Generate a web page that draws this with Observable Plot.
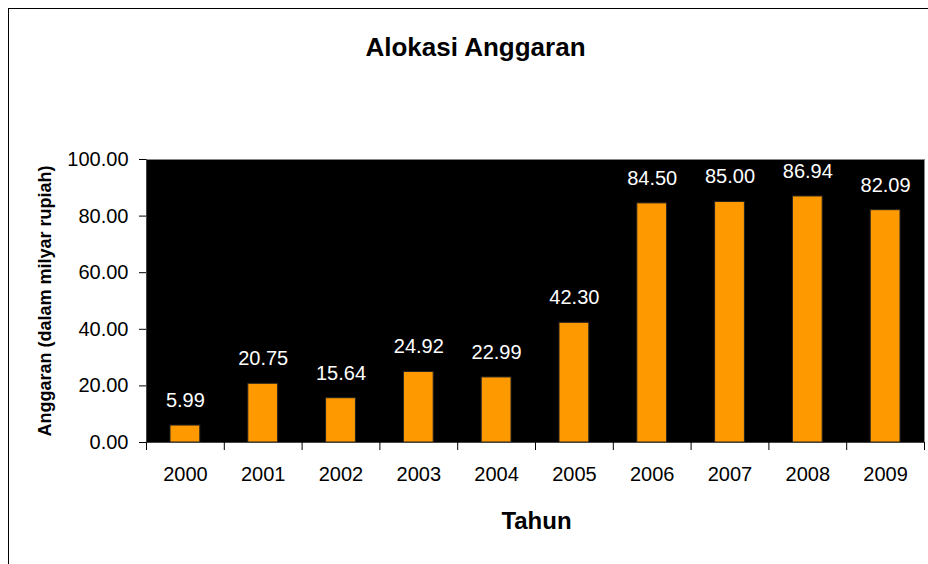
<!DOCTYPE html>
<html>
<head>
<meta charset="utf-8">
<script src="https://cdn.jsdelivr.net/npm/d3@7"></script>
<script src="https://cdn.jsdelivr.net/npm/@observablehq/plot@0.6"></script>
<style>
  html, body { margin: 0; padding: 0; background: #fff; overflow: hidden; width: 928px; height: 564px; }
  #border { position: absolute; left: 8px; top: 8px; width: 2000px; height: 2000px; border-left: 1px solid #000; border-top: 1px solid #000; }
  #chart { position: absolute; left: 0; top: 0; }
</style>
</head>
<body>
<div id="border"></div>
<div id="chart"></div>
<script>
const years = [2000, 2001, 2002, 2003, 2004, 2005, 2006, 2007, 2008, 2009];
const values = [5.99, 20.75, 15.64, 24.92, 22.99, 42.30, 84.50, 85.00, 86.94, 82.09];
const yTicks = [0, 20, 40, 60, 80, 100];
const titleText = "Alokasi Anggaran";
const xLabelText = "Tahun";
const yLabelText = "Anggaran (dalam milyar rupiah)";

const data = years.map((year, i) => ({year, value: values[i]}));
const boundaries = [...years.map(y => y - 0.5), years[years.length - 1] + 0.5];

const chart = Plot.plot({
  width: 928,
  height: 564,
  marginLeft: 146,
  marginRight: 4,
  marginTop: 159,
  marginBottom: 122,
  style: {fontFamily: "'Liberation Sans', Arial, sans-serif", fontSize: "20px", background: "transparent", overflow: "visible"},
  x: {type: "linear", domain: [boundaries[0], boundaries[boundaries.length - 1]]},
  y: {domain: [0, 100]},
  marks: [
    Plot.frame({fill: "black", stroke: "#888"}),
    Plot.rectY(data, {x1: d => d.year - 0.5, x2: d => d.year + 0.5, y: "value", fill: "#FF9900", stroke: "#222", insetLeft: 24, insetRight: 24}),
    Plot.ruleX([boundaries[0]], {stroke: "#444"}),
    Plot.ruleY([0], {stroke: "#444"}),
    Plot.text(data, {x: "year", y: "value", text: d => d.value.toFixed(2), dy: -25, fill: "white", fontSize: 20, lineAnchor: "middle"}),
    Plot.axisY({ticks: yTicks, tickFormat: d => d.toFixed(2), tickSize: 7, tickPadding: 11, label: null, fontSize: 20}),
    Plot.axisX({ticks: boundaries, tickFormat: () => "", tickSize: 8, label: null}),
    Plot.axisX({ticks: years, tickFormat: d => String(d), tickSize: 0, tickPadding: 24, label: null, fontSize: 20}),
    Plot.text([titleText], {frameAnchor: "top", dx: -60, dy: -112, fontSize: 26, fontWeight: "bold", lineAnchor: "middle", fill: "black"}),
    Plot.text([xLabelText], {frameAnchor: "bottom", dx: 1, dy: 79, fontSize: 24, fontWeight: "bold", lineAnchor: "middle", fill: "black"}),
    Plot.text([yLabelText], {frameAnchor: "left", dx: -101, rotate: -90, fontSize: 18, fontWeight: "bold", textAnchor: "middle", lineAnchor: "middle", fill: "black"})
  ]
});
document.getElementById("chart").appendChild(chart);
</script>
</body>
</html>
